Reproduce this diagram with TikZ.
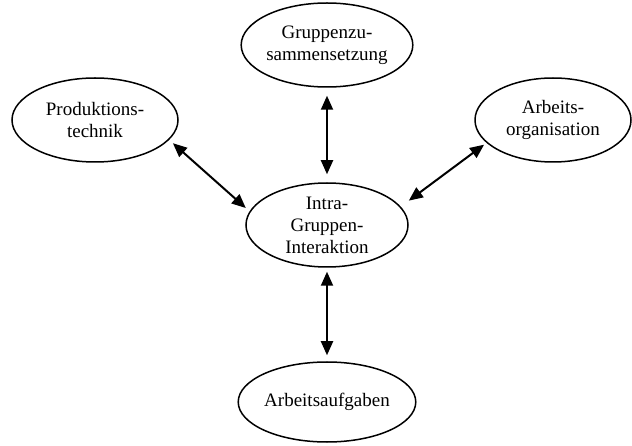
\documentclass[tikz,border=0pt]{standalone}
\usepackage{fontspec}
\setmainfont{Liberation Serif}
\usetikzlibrary{shapes.geometric,arrows.meta}
\begin{document}
\begin{tikzpicture}[x=1pt,y=-1pt,
  oval/.style={ellipse,draw,line width=1.5pt,inner sep=0pt,align=center,
    font=\fontsize{19}{22}\selectfont},
  link/.style={{Triangle[length=14pt,width=12pt]}-{Triangle[length=14pt,width=12pt]},line width=2pt}]
\useasboundingbox (0,0) rectangle (632,446);
\node[oval,minimum width=166pt,minimum height=84pt] (T) at (327,45) {Gruppenzu-\\sammensetzung};
\node[oval,minimum width=166pt,minimum height=84pt] (L) at (95,120) {Produktions-\\technik};
\node[oval,minimum width=156pt,minimum height=84pt] (R) at (553,120) {Arbeits-\\organisation};
\node[oval,minimum width=162pt,minimum height=84pt] (C) at (327,225) {Intra-\\Gruppen-\\Interaktion};
\node[oval,minimum width=164pt,minimum height=80pt] (B) at (327,402) {Arbeitsaufgaben};
\draw[link,shorten <=8pt,shorten >=8pt] (T.south) -- (C.north);
\draw[link,shorten <=4pt,shorten >=6pt] (C.south) -- (B.north);
\draw[link,shorten <=5pt,shorten >=5pt] (L.-15) -- (C.170);
\draw[link,shorten <=3pt,shorten >=10pt] (R.199) -- (C.14);
\end{tikzpicture}
\end{document}
